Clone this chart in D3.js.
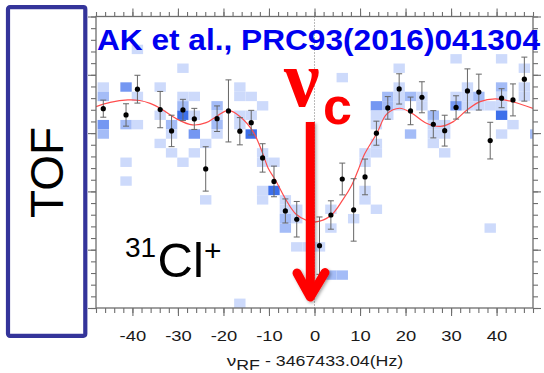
<!DOCTYPE html>
<html>
<head>
<meta charset="utf-8">
<script src="https://cdn.jsdelivr.net/npm/d3@7"></script>
<style>
  html, body { margin: 0; padding: 0; background: #fff; }
  svg { display: block; font-family: "Liberation Sans", Arial, sans-serif; }
</style>
</head>
<body>
<svg id="chart" width="544" height="373"></svg>
<script>
// frequency of each scan step (Hz, relative to 3467433.04)
var binFreq = [-46.4, -43.9, -41.4, -38.9, -36.4, -33.9, -31.4, -28.9, -26.4, -23.9,
  -21.4, -18.9, -16.4, -13.9, -11.4, -8.9, -6.4, -3.9, -1.4, 1.1,
  3.6, 6.1, 8.6, 11.1, 13.6, 16.1, 18.6, 21.1, 23.6, 26.1,
  28.6, 31.1, 33.6, 36.1, 38.6, 41.1, 43.6, 46.1, 48.6];

// TOF histogram cells: [scan step, TOF bin, counts]
var cells = [
  [0, 23, 1], [0, 22, 2], [0, 19, 3], [0, 18, 2],
  [2, 23, 3], [2, 19, 2], [2, 15, 1], [2, 13, 1],
  [3, 27, 1], [3, 22, 1], [3, 19, 1],
  [5, 23, 1], [5, 20, 1], [5, 17, 1],
  [6, 19, 2], [6, 18, 1], [6, 16, 1],
  [7, 25, 1], [7, 22, 1], [7, 21, 2], [7, 20, 4], [7, 15, 1],
  [8, 22, 1], [8, 20, 1], [8, 18, 3], [8, 16, 1],
  [9, 17, 1], [9, 11, 1],
  [10, 21, 2], [10, 20, 1], [10, 19, 2], [10, 18, 1],
  [12, 23, 1], [12, 22, 1], [12, 20, 1], [12, 19, 1], [12, 0, 1],
  [13, 22, 1], [13, 20, 1], [13, 18, 4],
  [14, 21, 1], [14, 16, 1], [14, 15, 1], [14, 12, 1], [14, 11, 1],
  [15, 15, 1], [15, 12, 4],
  [16, 11, 1], [16, 10, 1], [16, 9, 2], [16, 8, 2],
  [17, 10, 1], [17, 9, 1], [17, 6, 1],
  [18, 6, 1], [19, 6, 1],
  [20, 10, 1], [20, 8, 1], [20, 3, 2],
  [21, 24, 1], [21, 3, 2],
  [22, 9, 1],
  [23, 16, 1], [23, 15, 1], [23, 12, 1], [23, 11, 1],
  [24, 21, 3], [24, 20, 1], [24, 19, 1], [24, 17, 1], [24, 16, 1], [24, 10, 1],
  [25, 22, 2], [25, 21, 2], [25, 20, 1],
  [26, 25, 1], [26, 23, 1], [26, 22, 1], [26, 21, 1],
  [27, 22, 2], [27, 18, 2],
  [28, 22, 1], [28, 21, 1],
  [29, 20, 2], [29, 19, 1], [29, 18, 1], [29, 17, 1],
  [30, 19, 1], [30, 18, 1], [30, 16, 1],
  [31, 26, 1], [31, 22, 1], [31, 21, 3],
  [32, 23, 1], [32, 22, 1], [32, 21, 1],
  [33, 22, 2], [33, 21, 1],
  [34, 21, 1], [34, 8, 1],
  [35, 26, 1], [35, 23, 2], [35, 22, 1], [35, 21, 1], [35, 20, 4], [35, 18, 1],
  [36, 19, 1],
  [37, 25, 1], [37, 23, 1], [37, 22, 1],
  [38, 18, 2]
];

// mean TOF per scan step with error
var pointFreq = [-46.4, -41.4, -38.9, -33.9, -31.4, -28.9, -26.4, -23.9, -21.4, -18.9,
  -16.4, -13.9, -11.4, -8.9, -6.4, -3.9, 1.1, 3.6, 6.1, 8.6,
  11.1, 13.6, 16.1, 18.6, 21.1, 23.6, 26.1, 28.6, 31.1, 33.6,
  36.1, 38.6, 41.1, 43.6, 46.1];
var tofMean = [21.20, 20.53, 23.27, 21.10, 18.83, 21.06, 20.11, 14.79, 20.13, 20.96,
  18.80, 19.71, 15.96, 13.46, 10.32, 9.44, 6.63, 9.89, 13.72, 10.43,
  13.94, 18.59, 21.28, 23.30, 20.96, 22.41, 19.54, 18.86, 21.33, 23.09,
  22.96, 17.80, 22.31, 22.13, 24.34];
var tofErr = [0.91, 1.19, 1.48, 1.93, 1.67, 1.13, 1.12, 2.36, 1.36, 3.30,
  1.45, 1.31, 1.51, 1.63, 1.28, 1.89, 3.05, 1.51, 1.69, 3.32,
  1.90, 1.28, 1.20, 1.61, 1.47, 1.65, 1.45, 1.64, 1.24, 2.34,
  1.91, 1.95, 1.01, 1.70, 2.34];

// fitted resonance curve
var fitFreq = [-48.0, -44.9, -41.0, -38.4, -36.1, -33.9, -30.3, -26.8, -23.8, -21.2,
  -18.9, -16.4, -13.5, -11.5, -10.2, -8.6, -6.3, -4.1, -1.7, 0.3,
  3.6, 6.2, 8.2, 9.6, 10.9, 13.7, 15.9, 18.7, 21.3, 24.6,
  27.6, 30.5, 33.5, 36.4, 39.7, 43.7, 48.0];
var fitTof = [21.41, 21.86, 22.13, 22.07, 21.76, 21.24, 20.11, 19.47, 19.71, 20.48,
  21.01, 20.37, 18.76, 16.60, 14.89, 13.62, 11.54, 10.00, 9.31, 9.15,
  9.84, 11.49, 13.09, 14.68, 16.28, 18.59, 20.64, 21.24, 20.74, 19.65,
  19.31, 19.82, 21.06, 21.95, 22.23, 21.91, 21.22];

var xTickValues = [-40, -30, -20, -10, 0, 10, 20, 30, 40];
var xTickLabels = ['-40', '-30', '-20', '-10', '0', '10', '20', '30', '40'];
var countColors = ['#cddafb', '#a4bcf7', '#7497f2', '#3d6fea'];

var svg = d3.select('#chart');
var plot = { left: 96, right: 533, top: 16.5, bottom: 308 };
var axisColor = '#6e6e6e';
var binWidth = 2.5;

var x = d3.scaleLinear().domain([-48, 48]).range([plot.left, plot.right]);
var y = d3.scaleLinear().domain([0, 31]).range([plot.bottom, plot.top]);
var color = d3.scaleOrdinal().domain([1, 2, 3, 4]).range(countColors);

var defs = svg.append('defs');
defs.append('clipPath').attr('id', 'plotClip')
  .append('rect')
  .attr('x', plot.left).attr('y', plot.top)
  .attr('width', plot.right - plot.left).attr('height', plot.bottom - plot.top);
var shadow = defs.append('filter').attr('id', 'arrowShadow')
  .attr('x', '-50%').attr('y', '-10%').attr('width', '200%').attr('height', '120%');
shadow.append('feDropShadow').attr('dx', 1.5).attr('dy', 1.5)
  .attr('stdDeviation', 1.5).attr('flood-color', '#000').attr('flood-opacity', 0.35);

// TOF label box
svg.append('rect')
  .attr('x', 8).attr('y', 7.2).attr('width', 77.3).attr('height', 328.6).attr('rx', 2)
  .attr('fill', 'none').attr('stroke', '#34349a').attr('stroke-width', 4.2);
svg.append('text')
  .attr('transform', 'translate(63.3,172.5) rotate(-90)')
  .attr('text-anchor', 'middle').attr('font-size', 46).attr('fill', '#000')
  .text('TOF');

// histogram cells
var body = svg.append('g').attr('clip-path', 'url(#plotClip)');
body.selectAll('rect.cell').data(cells).enter().append('rect')
  .attr('class', 'cell')
  .attr('x', function (d) { return x(binFreq[d[0]] - binWidth / 2); })
  .attr('width', function (d) { return x(binFreq[d[0]] + binWidth / 2) - x(binFreq[d[0]] - binWidth / 2); })
  .attr('y', function (d) { return y(d[1] + 1); })
  .attr('height', function (d) { return y(d[1]) - y(d[1] + 1); })
  .attr('fill', function (d) { return color(d[2]); });

// centre line
body.append('line')
  .attr('x1', x(0)).attr('x2', x(0)).attr('y1', plot.top).attr('y2', plot.bottom)
  .attr('stroke', '#777').attr('stroke-width', 1).attr('stroke-dasharray', '1,2');

// fit
var fitLine = d3.line()
  .x(function (d) { return x(d[0]); })
  .y(function (d) { return y(d[1]); })
  .curve(d3.curveCatmullRom);
body.append('path')
  .datum(d3.zip(fitFreq, fitTof))
  .attr('d', fitLine)
  .attr('fill', 'none').attr('stroke', '#ff4d4d').attr('stroke-width', 1.2);

// error bars and points
var points = d3.zip(pointFreq, tofMean, tofErr);
var bars = body.selectAll('g.bar').data(points).enter().append('g').attr('class', 'bar')
  .attr('stroke', '#666').attr('stroke-width', 1);
bars.append('line')
  .attr('x1', function (d) { return x(d[0]); }).attr('x2', function (d) { return x(d[0]); })
  .attr('y1', function (d) { return y(d[1] + d[2]); }).attr('y2', function (d) { return y(d[1] - d[2]); });
bars.append('line')
  .attr('x1', function (d) { return x(d[0]) - 3; }).attr('x2', function (d) { return x(d[0]) + 3; })
  .attr('y1', function (d) { return y(d[1] + d[2]); }).attr('y2', function (d) { return y(d[1] + d[2]); });
bars.append('line')
  .attr('x1', function (d) { return x(d[0]) - 3; }).attr('x2', function (d) { return x(d[0]) + 3; })
  .attr('y1', function (d) { return y(d[1] - d[2]); }).attr('y2', function (d) { return y(d[1] - d[2]); });
body.selectAll('circle.pt').data(points).enter().append('circle')
  .attr('class', 'pt')
  .attr('cx', function (d) { return x(d[0]); })
  .attr('cy', function (d) { return y(d[1]); })
  .attr('r', 2.6).attr('fill', '#000');

// axes: frame plus minor/major ticks on all four sides
svg.append('rect')
  .attr('x', plot.left).attr('y', plot.top)
  .attr('width', plot.right - plot.left).attr('height', plot.bottom - plot.top)
  .attr('fill', 'none').attr('stroke', axisColor).attr('stroke-width', 1.3);

var xMinor = d3.range(-48, 48.001, 2);
var yTicks = d3.range(26).map(function (i) { return i * 31 / 25; });
var yMajor = yTicks.filter(function (d, i) { return i % 5 === 0; });

function ticks(gen, values, size, tx, ty) {
  var g = svg.append('g').attr('transform', 'translate(' + tx + ',' + ty + ')')
    .call(gen.tickValues(values).tickSize(size).tickSizeOuter(0).tickFormat(''));
  g.select('.domain').remove();
  g.selectAll('line').attr('stroke', axisColor).attr('stroke-width', 1.1);
  return g;
}
ticks(d3.axisBottom(x), xMinor, 5, 0, plot.bottom);
ticks(d3.axisBottom(x), xTickValues, 8, 0, plot.bottom);
ticks(d3.axisTop(x), xMinor, 4.5, 0, plot.top);
ticks(d3.axisTop(x), xTickValues, 8, 0, plot.top);
ticks(d3.axisLeft(y), yTicks, 5, plot.left, 0);
ticks(d3.axisLeft(y), yMajor, 8, plot.left, 0);
ticks(d3.axisRight(y), yTicks, 5, plot.right, 0);
ticks(d3.axisRight(y), yMajor, 8, plot.right, 0);

var labels = svg.append('g').attr('transform', 'translate(0,' + plot.bottom + ')')
  .call(d3.axisBottom(x).tickValues(xTickValues).tickSize(0).tickSizeOuter(0)
    .tickFormat(function (d, i) { return xTickLabels[i]; }));
labels.select('.domain').remove();
labels.selectAll('text')
  .attr('y', 33.5).attr('dy', null)
  .attr('font-size', 14.5).attr('font-family', '"Liberation Sans", Arial, sans-serif')
  .attr('fill', '#1a1a1a').attr('transform', 'scale(1.27,1)');

var xTitle = svg.append('g').attr('transform', 'translate(315,365.5) scale(1.27,1)')
  .append('text').attr('text-anchor', 'middle').attr('fill', '#1a1a1a').attr('font-size', 14);
xTitle.append('tspan').attr('font-size', 15).text('ν');
xTitle.append('tspan').attr('dy', 4.5).text('RF');
xTitle.append('tspan').attr('dy', -4.5).text(' - 3467433.04(Hz)');

// annotations
svg.append('text')
  .attr('x', 97).attr('y', 50)
  .attr('font-size', 29).attr('font-weight', 'bold').attr('fill', '#0000f0')
  .attr('textLength', 443).attr('lengthAdjust', 'spacingAndGlyphs')
  .text('AK et al., PRC93(2016)041304');

svg.append('text')
  .attr('x', 284).attr('y', 106)
  .attr('font-family', '"Liberation Serif", "Times New Roman", serif')
  .attr('font-size', 80).attr('font-weight', 'bold').attr('fill', '#ff0000')
  .text('ν');
svg.append('text')
  .attr('x', 323).attr('y', 123.5)
  .attr('font-size', 52).attr('font-weight', 'bold').attr('fill', '#ff0000')
  .text('c');

var arrow = svg.append('g').attr('filter', 'url(#arrowShadow)')
  .attr('stroke', '#ff0000').attr('fill', 'none').attr('stroke-width', 9);
arrow.append('line')
  .attr('x1', 310.3).attr('x2', 310.3).attr('y1', 122).attr('y2', 294);
arrow.append('path')
  .attr('d', 'M297,273 L310.3,297 L325,272.5')
  .attr('stroke-linecap', 'round').attr('stroke-linejoin', 'round');

var ion = svg.append('text').attr('fill', '#000');
ion.append('tspan').attr('x', 125).attr('y', 256.5).attr('font-size', 28).text('31');
ion.append('tspan').attr('x', 157.5).attr('y', 276.5).attr('font-size', 49).text('Cl');
ion.append('tspan').attr('x', 204).attr('y', 261).attr('font-size', 30).text('+');
</script>
</body>
</html>
